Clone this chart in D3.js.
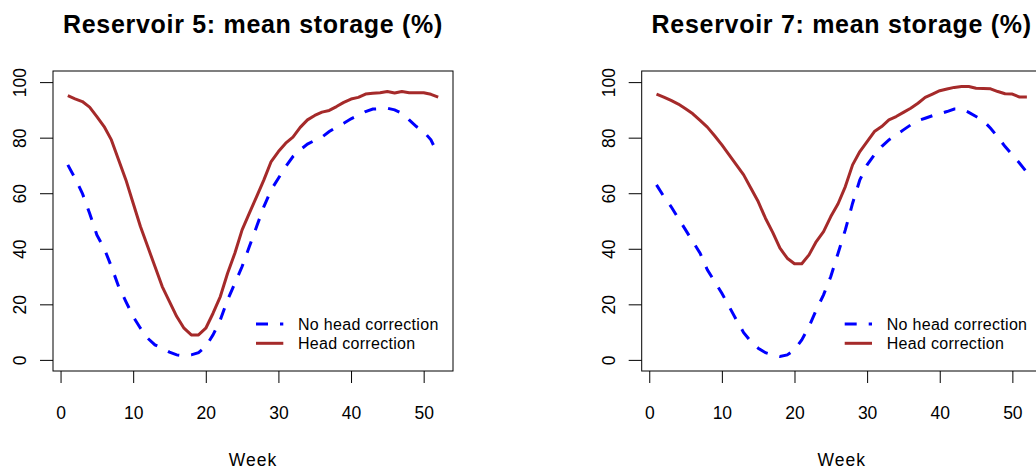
<!DOCTYPE html>
<html>
<head>
<meta charset="utf-8">
<script src="https://cdn.jsdelivr.net/npm/d3@7"></script>
<style>
  body { margin: 0; background: #fff; }
  svg { font-family: "Liberation Sans", Arial, sans-serif; }
</style>
</head>
<body>
<script>
// weekly mean storage (%)
var weeks = d3.range(1, 53);

var res5NoHead = [70.2, 65.4, 60, 52.8, 45, 40.2, 33.6, 26.4, 21, 15.6,
  11.4, 7.8, 5.4, 4.2, 2.8, 1.8, 1.4, 1.8, 2.6, 4.8,
  9, 14.4, 21.6, 27.6, 33.6, 40.8, 48, 55.2, 61.2, 65.4,
  69.6, 73.2, 75.6, 77.7, 79, 80.2, 82.2, 83.8, 85.2, 86.8,
  88, 89.4, 90.3, 90.4, 90.6, 90, 88.8, 86.4, 84, 82.2,
  79.2, 73.8];
var res5Head = [95.1, 94, 93, 91, 87.6, 84, 79.2, 72, 64.8, 56.4,
  48, 40.8, 33.6, 26.4, 21, 15.6, 11.4, 9, 9, 11.4,
  16.8, 22.8, 31.2, 38.4, 46.8, 52.8, 58.8, 64.8, 71.4, 75,
  78, 80.2, 83.7, 86.4, 88, 89.2, 89.8, 91.2, 92.7, 93.9,
  94.5, 95.7, 96, 96.2, 96.6, 96.1, 96.6, 96.2, 96.2, 96.2,
  95.6, 94.6];

var res7NoHead = [63, 58.8, 55.2, 51, 46.8, 42.6, 38.4, 32.4, 28.2, 24,
  19.2, 14.4, 9.8, 6.6, 4.2, 2.6, 1.8, 1.2, 1.8, 3.6,
  7.2, 12, 18, 23.4, 30, 38.4, 46.8, 56.4, 64.8, 70.2,
  73.8, 76.8, 79.2, 81, 82.8, 84.6, 86.1, 87, 87.9, 88.6,
  89.4, 90.3, 90.3, 89.1, 87.6, 86.1, 83.4, 80.2, 76.8, 73.8,
  70.8, 67.5];
var res7Head = [95.7, 94.6, 93.4, 92.1, 90.4, 88.6, 86.2, 83.8, 80.7, 77.4,
  73.8, 70.2, 66.6, 61.8, 57, 51, 45.9, 40.2, 36.6, 34.6,
  34.6, 37.8, 42.6, 46.2, 51.6, 56.2, 62.4, 70.2, 75, 78.6,
  82.2, 84, 86.4, 87.6, 89.1, 90.6, 92.4, 94.5, 95.7, 96.9,
  97.5, 98.1, 98.4, 98.4, 97.8, 97.7, 97.6, 96.6, 95.8, 95.7,
  94.6, 94.6];

var xTicks = [0, 10, 20, 30, 40, 50];
var yTicks = [0, 20, 40, 60, 80, 100];
var legendLabels = ["No head correction", "Head correction"];

var w = 1036;
var h = 470;

var svg = d3.select("body").append("svg")
    .attr("width", w)
    .attr("height", h);

function drawPanel(left, title, noHead, head) {
  var boxW = 400, top = 71, bottom = 371;

  var x = d3.scaleLinear().domain([-1.04, 54.04]).range([left, left + boxW]);
  var y = d3.scaleLinear().domain([-4, 104]).range([bottom, top]);

  var g = svg.append("g");

  // x axis
  var xa = g.append("g")
      .attr("transform", "translate(0," + bottom + ")")
      .call(d3.axisBottom(x).tickValues(xTicks).tickSize(12).tickSizeOuter(0).tickPadding(24));
  xa.select(".domain").remove();
  xa.selectAll("line").attr("stroke", "#000");
  xa.selectAll("text")
      .attr("font-size", "17.5px")
      .attr("font-family", "Liberation Sans, Arial, sans-serif")
      .attr("fill", "#000");

  // y axis with rotated labels
  var ya = g.append("g")
      .attr("transform", "translate(" + left + ",0)")
      .call(d3.axisLeft(y).tickValues(yTicks).tickSize(13).tickSizeOuter(0));
  ya.select(".domain").remove();
  ya.selectAll("line").attr("stroke", "#000");
  ya.selectAll("text")
      .attr("x", 0)
      .attr("dy", 0)
      .attr("transform", "translate(-27,0) rotate(-90)")
      .attr("text-anchor", "middle")
      .attr("font-size", "17.5px")
      .attr("font-family", "Liberation Sans, Arial, sans-serif")
      .attr("fill", "#000");

  // lines
  var line = d3.line()
      .x(function(d, i) { return x(weeks[i]); })
      .y(function(d) { return y(d); });

  g.append("path")
      .datum(noHead)
      .attr("d", line)
      .attr("fill", "none")
      .attr("stroke", "#0000ff")
      .attr("stroke-width", 3)
      .attr("stroke-dasharray", "12,12");

  g.append("path")
      .datum(head)
      .attr("d", line)
      .attr("fill", "none")
      .attr("stroke", "#a52a2a")
      .attr("stroke-width", 3)
      .attr("stroke-linejoin", "round");

  // box
  g.append("rect")
      .attr("x", left)
      .attr("y", top)
      .attr("width", boxW)
      .attr("height", bottom - top)
      .attr("fill", "none")
      .attr("stroke", "#000")
      .attr("stroke-width", 1);

  // legend
  var lg = g.append("g").attr("transform", "translate(" + (left + 203) + ",0)");
  var legendY = [324, 343.3];
  lg.append("line")
      .attr("x1", 0).attr("x2", 27.3)
      .attr("y1", legendY[0]).attr("y2", legendY[0])
      .attr("stroke", "#0000ff").attr("stroke-width", 3)
      .attr("stroke-dasharray", "12,12");
  lg.append("line")
      .attr("x1", 0).attr("x2", 27.3)
      .attr("y1", legendY[1]).attr("y2", legendY[1])
      .attr("stroke", "#a52a2a").attr("stroke-width", 3);
  lg.selectAll("text.leg")
      .data(legendLabels)
      .enter()
      .append("text")
      .attr("class", "leg")
      .attr("x", 42)
      .attr("y", function(d, i) { return legendY[i] + 6; })
      .attr("font-size", "16px")
      .attr("letter-spacing", "0.3px")
      .text(function(d) { return d; });

  // title and x label
  g.append("text")
      .attr("x", left + boxW / 2)
      .attr("y", 33)
      .attr("text-anchor", "middle")
      .attr("font-size", "25px")
      .attr("font-weight", "bold")
      .attr("letter-spacing", "0.7px")
      .text(title);

  g.append("text")
      .attr("x", left + boxW / 2)
      .attr("y", 466)
      .attr("text-anchor", "middle")
      .attr("font-size", "17.5px")
      .attr("letter-spacing", "1px")
      .text("Week");
}

drawPanel(53, "Reservoir 5: mean storage (%)", res5NoHead, res5Head);
drawPanel(641.7, "Reservoir 7: mean storage (%)", res7NoHead, res7Head);
</script>
</body>
</html>
